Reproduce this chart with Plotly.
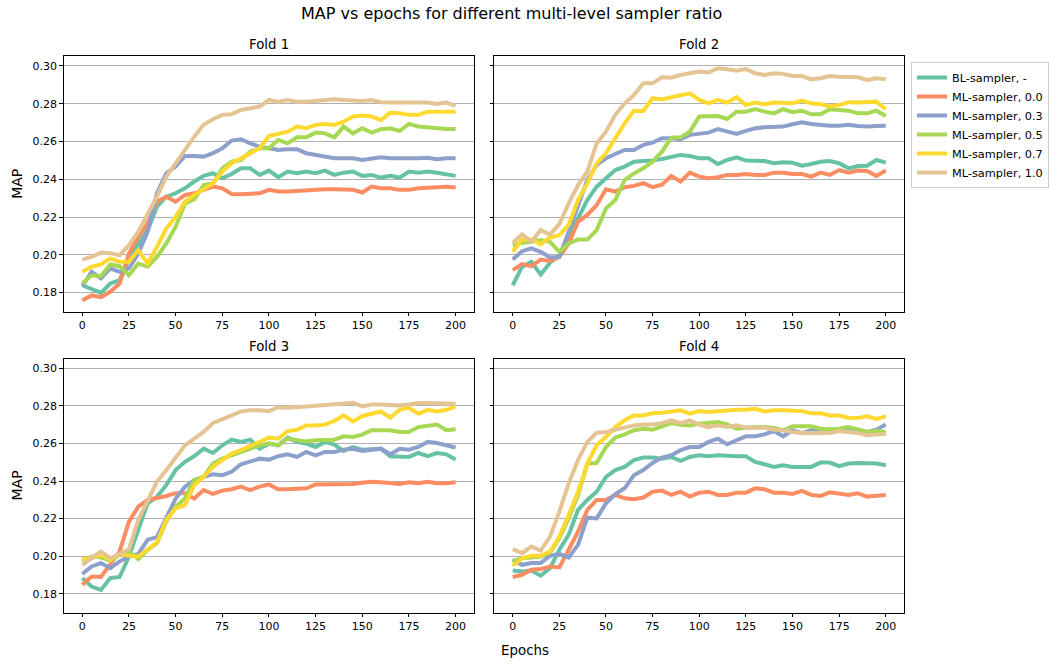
import plotly.graph_objects as go

epochs = list(range(0, 205, 5))

series_names = ["BL-sampler, -", "ML-sampler, 0.0", "ML-sampler, 0.3",
                "ML-sampler, 0.5", "ML-sampler, 0.7", "ML-sampler, 1.0"]
colors = ["#66c2a5", "#fc8d62", "#8da0cb", "#a6d854", "#ffd92f", "#e5c494"]
fold_titles = ["Fold 1", "Fold 2", "Fold 3", "Fold 4"]
x_ticks = [0, 25, 50, 75, 100, 125, 150, 175, 200]
y_ticks = [0.18, 0.20, 0.22, 0.24, 0.26, 0.28, 0.30]

# ---------------- Fold 1 ----------------
bl_1 = [0.1839, 0.1817, 0.1799, 0.1848, 0.1866, 0.1981, 0.2060, 0.2131, 0.2255, 0.2308,
        0.2326, 0.2352, 0.2388, 0.2418, 0.2432, 0.2405, 0.2428, 0.2458, 0.2458, 0.2423,
        0.2446, 0.2411, 0.2441, 0.2432, 0.2441, 0.2432, 0.2446, 0.2423, 0.2435, 0.2441,
        0.2418, 0.2423, 0.2409, 0.2418, 0.2409, 0.2441, 0.2435, 0.2441, 0.2435, 0.2428, 0.2418]
ml00_1 = [0.1759, 0.1785, 0.1776, 0.1804, 0.1848, 0.2007, 0.2096, 0.2166, 0.2281, 0.2308,
          0.2281, 0.2317, 0.2326, 0.2344, 0.2361, 0.2352, 0.2322, 0.2321, 0.2326, 0.2326,
          0.2344, 0.2335, 0.2335, 0.2338, 0.2344, 0.2347, 0.2347, 0.2347, 0.2344, 0.2344,
          0.2330, 0.2361, 0.2352, 0.2352, 0.2344, 0.2344, 0.2352, 0.2356, 0.2358, 0.2361, 0.2356]
ml03_1 = [0.1834, 0.1910, 0.1875, 0.1928, 0.1910, 0.1928, 0.2007, 0.2122, 0.2325, 0.2431,
          0.2467, 0.2523, 0.2523, 0.2520, 0.2538, 0.2564, 0.2605, 0.2612, 0.2590, 0.2573,
          0.2564, 0.2555, 0.2559, 0.2559, 0.2538, 0.2529, 0.2523, 0.2511, 0.2511, 0.2511,
          0.2502, 0.2511, 0.2516, 0.2511, 0.2511, 0.2506, 0.2511, 0.2514, 0.2506, 0.2511, 0.2511]
ml05_1 = [0.1848, 0.1892, 0.1887, 0.1949, 0.1940, 0.1892, 0.1954, 0.1937, 0.1989, 0.2060,
          0.2149, 0.2272, 0.2294, 0.2369, 0.2378, 0.2458, 0.2493, 0.2502, 0.2546, 0.2564,
          0.2564, 0.2608, 0.2590, 0.2622, 0.2622, 0.2647, 0.2643, 0.2622, 0.2679, 0.2643,
          0.2670, 0.2647, 0.2665, 0.2670, 0.2656, 0.2693, 0.2679, 0.2673, 0.2670, 0.2666, 0.2666]
ml07_1 = [0.1910, 0.1937, 0.1949, 0.1981, 0.1963, 0.1963, 0.2025, 0.1954, 0.2042, 0.2139,
          0.2201, 0.2281, 0.2317, 0.2347, 0.2378, 0.2440, 0.2485, 0.2511, 0.2538, 0.2564,
          0.2629, 0.2638, 0.2652, 0.2679, 0.2670, 0.2688, 0.2693, 0.2688, 0.2705, 0.2732,
          0.2737, 0.2732, 0.2714, 0.2753, 0.2750, 0.2741, 0.2741, 0.2758, 0.2758, 0.2758, 0.2758]
ml10_1 = [0.1975, 0.1989, 0.2012, 0.2009, 0.1998, 0.2051, 0.2122, 0.2211, 0.2308, 0.2414,
          0.2485, 0.2564, 0.2626, 0.2688, 0.2718, 0.2741, 0.2744, 0.2767, 0.2776, 0.2785,
          0.2820, 0.2811, 0.2820, 0.2811, 0.2811, 0.2815, 0.2816, 0.2823, 0.2820, 0.2818,
          0.2815, 0.2820, 0.2808, 0.2806, 0.2806, 0.2803, 0.2803, 0.2806, 0.2799, 0.2806, 0.2788]

# ---------------- Fold 2 ----------------
bl_2 = [0.1839, 0.1936, 0.1963, 0.1896, 0.1958, 0.1998, 0.2096, 0.2193, 0.2290, 0.2361,
        0.2405, 0.2449, 0.2467, 0.2493, 0.2497, 0.2499, 0.2507, 0.2516, 0.2529, 0.2523,
        0.2511, 0.2511, 0.2481, 0.2502, 0.2516, 0.2499, 0.2499, 0.2497, 0.2485, 0.2490,
        0.2488, 0.2472, 0.2481, 0.2493, 0.2497, 0.2485, 0.2458, 0.2470, 0.2472, 0.2502, 0.2488]
ml00_2 = [0.1919, 0.1951, 0.1940, 0.1975, 0.1968, 0.1989, 0.2060, 0.2175, 0.2211, 0.2263,
          0.2347, 0.2335, 0.2358, 0.2365, 0.2379, 0.2358, 0.2371, 0.2418, 0.2388, 0.2435,
          0.2414, 0.2405, 0.2411, 0.2423, 0.2423, 0.2428, 0.2423, 0.2423, 0.2435, 0.2435,
          0.2428, 0.2428, 0.2414, 0.2435, 0.2423, 0.2449, 0.2435, 0.2446, 0.2444, 0.2418, 0.2446]
ml03_2 = [0.1975, 0.2019, 0.2034, 0.2016, 0.1986, 0.1989, 0.2122, 0.2263, 0.2396, 0.2476,
          0.2511, 0.2534, 0.2555, 0.2555, 0.2582, 0.2594, 0.2617, 0.2617, 0.2612, 0.2635,
          0.2643, 0.2647, 0.2666, 0.2652, 0.2640, 0.2656, 0.2670, 0.2675, 0.2675, 0.2679,
          0.2691, 0.2702, 0.2693, 0.2688, 0.2684, 0.2684, 0.2688, 0.2682, 0.2679, 0.2682, 0.2684]
ml05_2 = [0.2051, 0.2064, 0.2069, 0.2078, 0.2069, 0.2016, 0.2060, 0.2081, 0.2081, 0.2131,
          0.2245, 0.2290, 0.2396, 0.2431, 0.2458, 0.2493, 0.2546, 0.2620, 0.2622, 0.2652,
          0.2732, 0.2732, 0.2735, 0.2719, 0.2758, 0.2758, 0.2771, 0.2758, 0.2749, 0.2771,
          0.2755, 0.2763, 0.2744, 0.2744, 0.2771, 0.2767, 0.2763, 0.2749, 0.2749, 0.2763, 0.2735]
ml07_2 = [0.2016, 0.2081, 0.2081, 0.2055, 0.2092, 0.2104, 0.2158, 0.2290, 0.2378, 0.2484,
          0.2537, 0.2617, 0.2696, 0.2762, 0.2762, 0.2829, 0.2823, 0.2834, 0.2846, 0.2855,
          0.2820, 0.2802, 0.2820, 0.2806, 0.2834, 0.2793, 0.2806, 0.2797, 0.2806, 0.2802,
          0.2802, 0.2816, 0.2802, 0.2797, 0.2785, 0.2793, 0.2808, 0.2806, 0.2811, 0.2811, 0.2771]
ml10_2 = [0.2064, 0.2108, 0.2069, 0.2131, 0.2108, 0.2163, 0.2272, 0.2369, 0.2440, 0.2590,
          0.2652, 0.2741, 0.2802, 0.2846, 0.2908, 0.2908, 0.2940, 0.2938, 0.2952, 0.2961,
          0.2970, 0.2965, 0.2988, 0.2982, 0.2975, 0.2984, 0.2961, 0.2952, 0.2961, 0.2958,
          0.2947, 0.2947, 0.2929, 0.2935, 0.2947, 0.2943, 0.2940, 0.2940, 0.2926, 0.2935, 0.2929]

# ---------------- Fold 3 ----------------
bl_3 = [0.1883, 0.1838, 0.1820, 0.1883, 0.1889, 0.1998, 0.2140, 0.2281, 0.2316, 0.2378,
        0.2458, 0.2502, 0.2532, 0.2572, 0.2549, 0.2590, 0.2620, 0.2608, 0.2620, 0.2572,
        0.2599, 0.2590, 0.2631, 0.2608, 0.2599, 0.2581, 0.2608, 0.2594, 0.2560, 0.2581,
        0.2567, 0.2567, 0.2572, 0.2532, 0.2528, 0.2528, 0.2549, 0.2532, 0.2549, 0.2542, 0.2514]
ml00_3 = [0.1848, 0.1892, 0.1889, 0.1954, 0.2025, 0.2184, 0.2263, 0.2299, 0.2307, 0.2320,
          0.2335, 0.2335, 0.2307, 0.2352, 0.2331, 0.2349, 0.2356, 0.2370, 0.2352, 0.2370,
          0.2382, 0.2356, 0.2356, 0.2356, 0.2361, 0.2382, 0.2382, 0.2382, 0.2382, 0.2384,
          0.2391, 0.2396, 0.2393, 0.2391, 0.2384, 0.2393, 0.2388, 0.2396, 0.2388, 0.2388, 0.2393]
ml03_3 = [0.1905, 0.1945, 0.1963, 0.1936, 0.1972, 0.1998, 0.2012, 0.2087, 0.2101, 0.2210,
          0.2307, 0.2369, 0.2405, 0.2422, 0.2436, 0.2431, 0.2449, 0.2489, 0.2502, 0.2519,
          0.2514, 0.2532, 0.2542, 0.2528, 0.2555, 0.2537, 0.2555, 0.2555, 0.2567, 0.2572,
          0.2560, 0.2564, 0.2572, 0.2542, 0.2572, 0.2567, 0.2581, 0.2608, 0.2602, 0.2590, 0.2578]
ml05_3 = [0.1972, 0.1998, 0.1993, 0.1977, 0.2007, 0.2025, 0.1984, 0.2034, 0.2069, 0.2184,
          0.2263, 0.2307, 0.2405, 0.2422, 0.2493, 0.2519, 0.2537, 0.2555, 0.2572, 0.2590,
          0.2599, 0.2590, 0.2625, 0.2620, 0.2611, 0.2617, 0.2617, 0.2620, 0.2638, 0.2634,
          0.2647, 0.2670, 0.2670, 0.2670, 0.2661, 0.2661, 0.2687, 0.2691, 0.2700, 0.2670, 0.2675]
ml07_3 = [0.1984, 0.1989, 0.2007, 0.1981, 0.2012, 0.2002, 0.1998, 0.2034, 0.2074, 0.2193,
          0.2254, 0.2272, 0.2378, 0.2422, 0.2475, 0.2511, 0.2546, 0.2564, 0.2585, 0.2608,
          0.2631, 0.2625, 0.2666, 0.2673, 0.2696, 0.2696, 0.2700, 0.2719, 0.2749, 0.2717,
          0.2746, 0.2758, 0.2770, 0.2737, 0.2779, 0.2790, 0.2758, 0.2779, 0.2770, 0.2779, 0.2797]
ml10_3 = [0.1954, 0.1989, 0.2025, 0.1989, 0.2012, 0.2037, 0.2193, 0.2299, 0.2396, 0.2458,
          0.2528, 0.2590, 0.2625, 0.2661, 0.2708, 0.2726, 0.2749, 0.2770, 0.2776, 0.2776,
          0.2772, 0.2793, 0.2790, 0.2793, 0.2797, 0.2799, 0.2807, 0.2811, 0.2815, 0.2816,
          0.2797, 0.2807, 0.2807, 0.2802, 0.2802, 0.2807, 0.2815, 0.2815, 0.2815, 0.2815, 0.2811]

# ---------------- Fold 4 ----------------
bl_4 = [0.1924, 0.1919, 0.1924, 0.1896, 0.1936, 0.2034, 0.2113, 0.2246, 0.2299, 0.2343,
        0.2422, 0.2458, 0.2475, 0.2511, 0.2525, 0.2525, 0.2519, 0.2528, 0.2507, 0.2528,
        0.2537, 0.2532, 0.2537, 0.2532, 0.2532, 0.2532, 0.2502, 0.2489, 0.2475, 0.2484,
        0.2475, 0.2475, 0.2475, 0.2498, 0.2498, 0.2479, 0.2493, 0.2496, 0.2496, 0.2493, 0.2484]
ml00_4 = [0.1889, 0.1901, 0.1928, 0.1931, 0.1945, 0.1940, 0.2034, 0.2131, 0.2246, 0.2299,
          0.2299, 0.2326, 0.2308, 0.2303, 0.2312, 0.2343, 0.2349, 0.2326, 0.2343, 0.2317,
          0.2338, 0.2343, 0.2326, 0.2326, 0.2338, 0.2338, 0.2361, 0.2356, 0.2338, 0.2338,
          0.2331, 0.2347, 0.2326, 0.2320, 0.2340, 0.2331, 0.2326, 0.2335, 0.2317, 0.2322, 0.2326]
ml03_4 = [0.1981, 0.1954, 0.1963, 0.1963, 0.2002, 0.2012, 0.1993, 0.2060, 0.2205, 0.2201,
          0.2281, 0.2331, 0.2361, 0.2431, 0.2458, 0.2496, 0.2525, 0.2537, 0.2564, 0.2581,
          0.2581, 0.2608, 0.2625, 0.2595, 0.2617, 0.2638, 0.2638, 0.2648, 0.2666, 0.2638,
          0.2670, 0.2655, 0.2670, 0.2670, 0.2670, 0.2670, 0.2682, 0.2670, 0.2661, 0.2673, 0.2701]
ml05_4 = [0.1972, 0.1989, 0.1993, 0.1998, 0.2019, 0.2095, 0.2201, 0.2325, 0.2493, 0.2496,
          0.2581, 0.2631, 0.2648, 0.2670, 0.2678, 0.2673, 0.2691, 0.2708, 0.2700, 0.2696,
          0.2705, 0.2708, 0.2714, 0.2701, 0.2678, 0.2684, 0.2687, 0.2687, 0.2682, 0.2670,
          0.2691, 0.2691, 0.2691, 0.2678, 0.2675, 0.2678, 0.2687, 0.2675, 0.2661, 0.2666, 0.2661]
ml07_4 = [0.1949, 0.1989, 0.2002, 0.2002, 0.2025, 0.2104, 0.2219, 0.2343, 0.2493, 0.2590,
          0.2634, 0.2687, 0.2723, 0.2749, 0.2749, 0.2761, 0.2763, 0.2770, 0.2776, 0.2758,
          0.2772, 0.2767, 0.2772, 0.2779, 0.2779, 0.2779, 0.2784, 0.2770, 0.2776, 0.2776,
          0.2776, 0.2772, 0.2761, 0.2761, 0.2749, 0.2749, 0.2737, 0.2735, 0.2744, 0.2731, 0.2744]
ml10_4 = [0.2037, 0.2016, 0.2051, 0.2030, 0.2104, 0.2237, 0.2387, 0.2511, 0.2608, 0.2657,
          0.2661, 0.2673, 0.2687, 0.2696, 0.2701, 0.2701, 0.2708, 0.2723, 0.2708, 0.2723,
          0.2700, 0.2687, 0.2696, 0.2687, 0.2696, 0.2684, 0.2684, 0.2684, 0.2673, 0.2670,
          0.2661, 0.2655, 0.2655, 0.2655, 0.2655, 0.2666, 0.2661, 0.2655, 0.2643, 0.2648, 0.2652]

folds = [
    [bl_1, ml00_1, ml03_1, ml05_1, ml07_1, ml10_1],
    [bl_2, ml00_2, ml03_2, ml05_2, ml07_2, ml10_2],
    [bl_3, ml00_3, ml03_3, ml05_3, ml07_3, ml10_3],
    [bl_4, ml00_4, ml03_4, ml05_4, ml07_4, ml10_4],
]

FONT = "DejaVu Sans"
W, H = 1049, 664

fig = go.Figure()
for f, fold in enumerate(folds):
    sfx = "" if f == 0 else str(f + 1)
    for s, vals in enumerate(fold):
        fig.add_trace(go.Scatter(
            x=epochs, y=vals, mode="lines", name=series_names[s],
            line=dict(color=colors[s], width=4),
            xaxis="x" + sfx, yaxis="y" + sfx,
            showlegend=(f == 0), legendgroup=series_names[s],
        ))

# panel geometry in pixels (left, right, top, bottom)
col_px = [(64.3, 479.3), (499.3, 914.0)]
row_px = [(56.3, 311.7), (358.7, 612.7)]

layout = dict(
    width=W, height=H,
    margin=dict(l=0, r=0, t=0, b=0),
    paper_bgcolor="white", plot_bgcolor="white",
    font=dict(family=FONT, size=11, color="black"),
    legend=dict(
        x=921 / W, y=1 - 62 / H, xanchor="left", yanchor="top",
        bgcolor="white", bordercolor="#cccccc", borderwidth=1,
        font=dict(family=FONT, size=11.3, color="black"),
        tracegroupgap=0,
    ),
)

annotations = []
for f in range(4):
    r, c = divmod(f, 2)
    sfx = "" if f == 0 else str(f + 1)
    xl, xr = col_px[c]
    yt, yb = row_px[r]
    layout["xaxis" + sfx] = dict(
        domain=[xl / W, xr / W], range=[-10, 210], anchor="y" + sfx,
        tickvals=x_ticks, ticks="outside", ticklen=3.5, tickwidth=1, tickcolor="black",
        showline=True, linecolor="black", linewidth=1, mirror=True,
        showgrid=False, zeroline=False,
        tickfont=dict(family=FONT, size=11, color="black"),
    )
    layout["yaxis" + sfx] = dict(
        domain=[1 - yb / H, 1 - yt / H], range=[0.1699, 0.3051], anchor="x" + sfx,
        tickvals=y_ticks, tickformat=".2f", ticks="outside", ticklen=3.5, tickwidth=1,
        tickcolor="black", showline=True, linecolor="black", linewidth=1, mirror=True,
        showgrid=True, gridcolor="#b0b0b0", gridwidth=1, zeroline=False,
        showticklabels=(c == 0),
        tickfont=dict(family=FONT, size=11, color="black"),
    )
    annotations.append(dict(
        text=fold_titles[f], x=(xl + xr) / 2 / W, y=1 - (yt - 12) / H,
        xref="paper", yref="paper", xanchor="center", yanchor="middle",
        showarrow=False, font=dict(family=FONT, size=13.3, color="black"),
    ))

# row y-labels
for (yt, yb) in row_px:
    annotations.append(dict(
        text="MAP", x=17 / W, y=1 - (yt + yb) / 2 / H, textangle=-90,
        xref="paper", yref="paper", xanchor="center", yanchor="middle",
        showarrow=False, font=dict(family=FONT, size=14, color="black"),
    ))

annotations.append(dict(
    text="Epochs", x=531 / W, y=1 - 650 / H, xref="paper", yref="paper",
    xanchor="center", yanchor="middle", showarrow=False,
    font=dict(family=FONT, size=13.4, color="black"),
))
annotations.append(dict(
    text="MAP vs epochs for different multi-level sampler ratio",
    x=517 / W, y=1 - 13 / H, xref="paper", yref="paper",
    xanchor="center", yanchor="middle", showarrow=False,
    font=dict(family=FONT, size=16, color="black"),
))
layout["annotations"] = annotations

fig.update_layout(**layout)
fig.write_html("out.html")
